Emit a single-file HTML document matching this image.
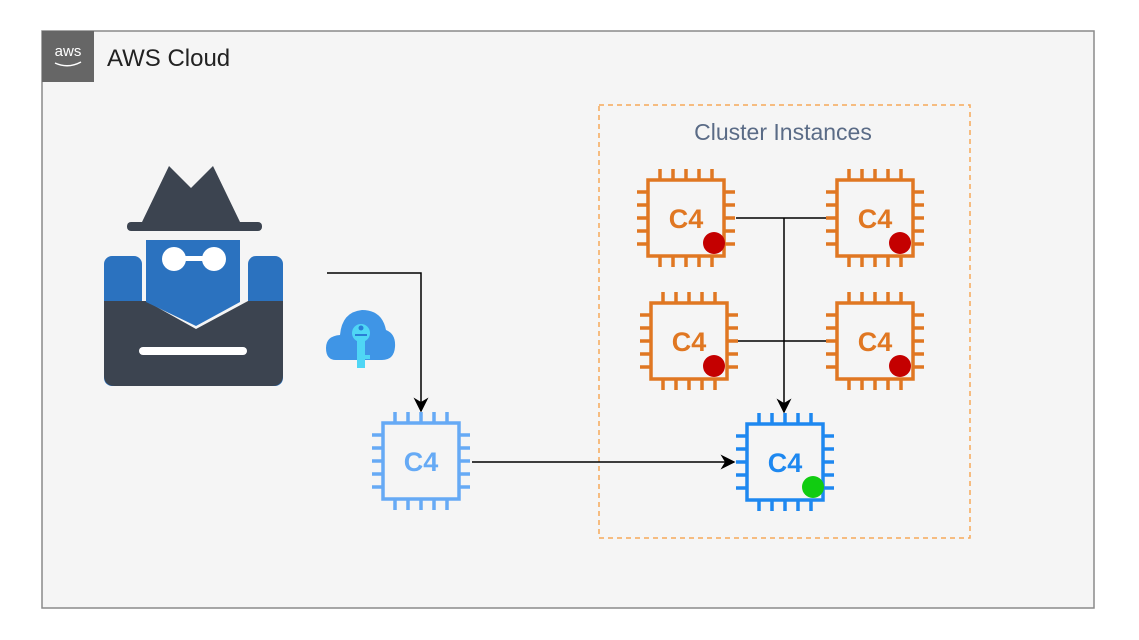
<!DOCTYPE html>
<html><head><meta charset="utf-8"><style>
html,body{margin:0;padding:0;background:#fff;}
svg{display:block;}
text{font-family:"Liberation Sans",sans-serif;}
</style></head><body>
<svg width="1139" height="640" viewBox="0 0 1139 640" xmlns="http://www.w3.org/2000/svg">
<defs>
<g id="chip" fill="none" stroke-width="3.5">
<rect x="-38" y="-38" width="76" height="76"/>
<path d="M-26,-38V-49M-13,-38V-49M0,-38V-49M13,-38V-49M26,-38V-49M-26,38V49M-13,38V49M0,38V49M13,38V49M26,38V49M-38,-26H-49M-38,-13H-49M-38,0H-49M-38,13H-49M-38,26H-49M38,-26H49M38,-13H49M38,0H49M38,13H49M38,26H49"/>
</g>
<marker id="ar" viewBox="0 0 10 10" refX="9" refY="5" markerWidth="15" markerHeight="15" orient="auto" markerUnits="userSpaceOnUse">
<path d="M0,0L10,5L0,10L3,5z" fill="#000"/>
</marker>
</defs>
<rect x="0" y="0" width="1139" height="640" fill="#fff"/>
<rect x="42" y="31" width="1052" height="577" fill="#f5f5f5" stroke="#8a8a8a" stroke-width="1.5"/>
<rect x="42" y="31" width="52" height="51" fill="#666"/>
<text x="68" y="56" font-size="15" fill="#fff" text-anchor="middle">aws</text>
<path d="M55,63 Q68,69 81,62" stroke="#fff" stroke-width="1.5" fill="none"/>
<text x="107" y="66" font-size="24" fill="#222">AWS Cloud</text>

<rect x="599" y="105" width="371" height="433" fill="none" stroke="#f7a95a" stroke-width="1.5" stroke-dasharray="5,4"/>
<text x="783" y="140" font-size="23" fill="#5a6b86" text-anchor="middle">Cluster Instances</text>

<!-- spy -->
<path d="M142,222 L169,166 L191,188 L213,166 L240,222 Z" fill="#3c4450"/>
<rect x="127" y="222" width="135" height="9" rx="4" fill="#3c4450"/>
<rect x="104" y="256" width="38" height="130" rx="8" fill="#2b72bf"/>
<rect x="248" y="256" width="35" height="130" rx="8" fill="#2b72bf"/>
<path d="M104,301 H146 L196,329 L248,301 H283 V375 Q283,386 272,386 H115 Q104,386 104,375 Z" fill="#3c4450"/>
<path d="M146,240 H240 V302 L196,326 L146,302 Z" fill="#2b72bf"/>
<circle cx="174" cy="259" r="12" fill="#fff"/>
<circle cx="214" cy="259" r="12" fill="#fff"/>
<rect x="180" y="256" width="28" height="5" fill="#fff"/>
<rect x="139" y="347" width="108" height="8" rx="4" fill="#fff"/>

<!-- key cloud -->
<path d="M336,360 Q326,360 326,348 Q326,336 340,335 Q342,312 362,310 Q382,310 386,330 Q396,334 395,347 Q394,360 382,360 Z" fill="#3f95e6"/>
<circle cx="361" cy="333" r="9" fill="#4fd6f5"/>
<rect x="357" y="336" width="8" height="32" fill="#4fd6f5"/>
<rect x="365" y="355" width="5" height="4" fill="#4fd6f5"/>
<circle cx="361" cy="328" r="2.5" fill="#2a7ed6"/>
<rect x="355" y="334" width="12" height="2" fill="#2a7ed6"/>

<!-- connectors -->
<g stroke="#000" stroke-width="1.5" fill="none">
<path d="M327,273 H421 V411" marker-end="url(#ar)"/>
<path d="M472,462 H734" marker-end="url(#ar)"/>
<path d="M736,218 H826"/>
<path d="M738,341 H826"/>
<path d="M784,218 V412" marker-end="url(#ar)"/>
</g>

<!-- chips -->
<use href="#chip" x="686" y="218" stroke="#e07722"/>
<use href="#chip" x="875" y="218" stroke="#e07722"/>
<use href="#chip" x="689" y="341" stroke="#e07722"/>
<use href="#chip" x="875" y="341" stroke="#e07722"/>
<use href="#chip" x="785" y="462" stroke="#1e88f0"/>
<use href="#chip" x="421" y="461" stroke="#66aaf5"/>
<g font-size="27" font-weight="bold" text-anchor="middle">
<text x="686" y="228" fill="#e07722">C4</text>
<text x="875" y="228" fill="#e07722">C4</text>
<text x="689" y="351" fill="#e07722">C4</text>
<text x="875" y="351" fill="#e07722">C4</text>
<text x="785" y="472" fill="#1e88f0">C4</text>
<text x="421" y="471" fill="#66aaf5">C4</text>
</g>
<circle cx="714" cy="243" r="11" fill="#c40000"/>
<circle cx="900" cy="243" r="11" fill="#c40000"/>
<circle cx="714" cy="366" r="11" fill="#c40000"/>
<circle cx="900" cy="366" r="11" fill="#c40000"/>
<circle cx="813" cy="487" r="11" fill="#11cc11"/>
</svg>
</body></html>
